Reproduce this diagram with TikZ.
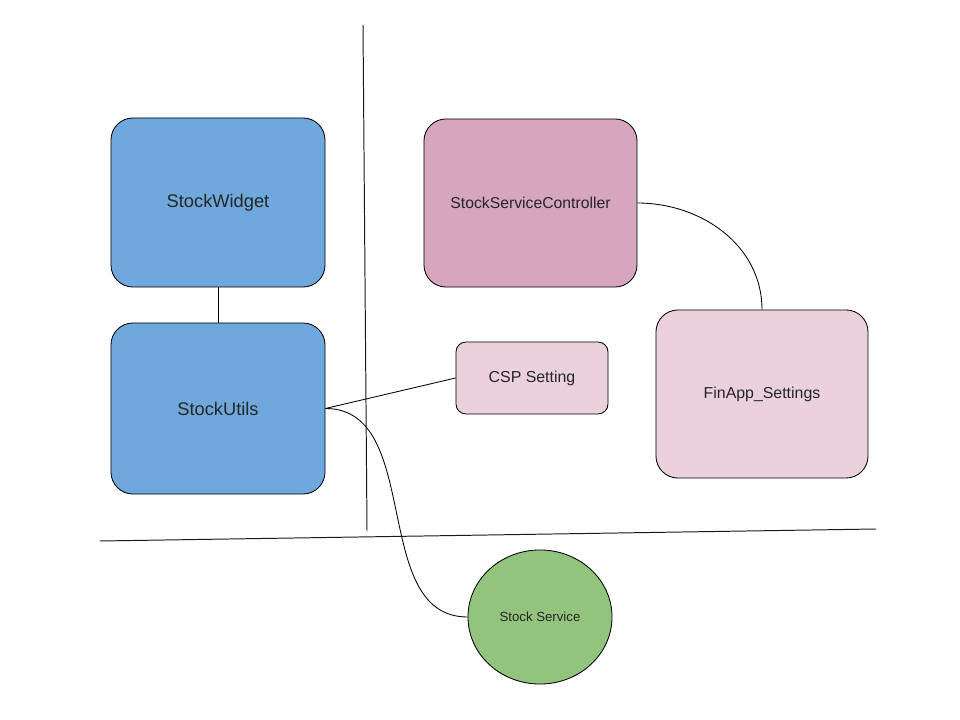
\documentclass[tikz,border=0pt]{standalone}
\usepackage{fontspec}
\setmainfont{Liberation Sans}
\usetikzlibrary{shapes.geometric}

\definecolor{widgetblue}{HTML}{6FA8DC}
\definecolor{ctrlpink}{HTML}{D5A6BD}
\definecolor{setpink}{HTML}{EAD1DC}
\definecolor{svcgreen}{HTML}{93C47D}

\begin{document}
\begin{tikzpicture}[x=0.025cm, y=-0.025cm,
    every node/.style={draw=black, line width=0.6pt, align=center, text=black!85},
    bigbox/.style={rounded corners=0.55cm, minimum width=5.35cm, minimum height=4.225cm},
    smallbox/.style={rounded corners=0.25cm, minimum width=3.8cm, minimum height=1.8cm},
    blue/.style={fill=widgetblue, font=\fontsize{13}{15}\selectfont},
    ctrl/.style={fill=ctrlpink, font=\fontsize{11.2}{13}\selectfont},
    setting/.style={fill=setpink, font=\fontsize{11.3}{13}\selectfont},
    service/.style={ellipse, fill=svcgreen, minimum width=3.6cm, minimum height=3.35cm, inner sep=0pt, font=\fontsize{9.4}{11}\selectfont},
    link/.style={line width=0.6pt},
    divider/.style={line width=0.7pt, black!90}
]
\useasboundingbox (0,0) rectangle (960,720);

% Dividers
\coordinate (vtop) at (363,25);
\coordinate (vbot) at (367,531);
\coordinate (hleft) at (100,541);
\coordinate (hright) at (876,529);
\draw[divider] (vtop) -- (vbot);
\draw[divider] (hleft) -- (hright);

% Left column -- widget side
\node[bigbox, blue] (widget) at (218,202.5) {StockWidget};
\node[bigbox, blue, minimum height=4.275cm] (utils) at (218,408.5) {StockUtils};

% Right side -- controller and settings
\node[bigbox, ctrl, minimum width=5.325cm, minimum height=4.2cm] (ctrl) at (530.5,203) {StockServiceController};
\node[smallbox, setting] (csp) at (532,378) {CSP Setting};
\node[bigbox, setting, minimum width=5.3cm, minimum height=4.2cm] (finapp) at (762,394) {FinApp\_Settings};

% Bottom -- service
\node[service] (svc) at (540,617) {Stock Service};

% Connectors
\draw[link] (widget) -- (utils);
\draw[link] (utils.east) -- (csp.west);
\draw[link] (utils.east) to[out=0, in=180] (svc.west);
\draw[link] (ctrl.east) to[out=0, in=90] (finapp.north);
\end{tikzpicture}
\end{document}
